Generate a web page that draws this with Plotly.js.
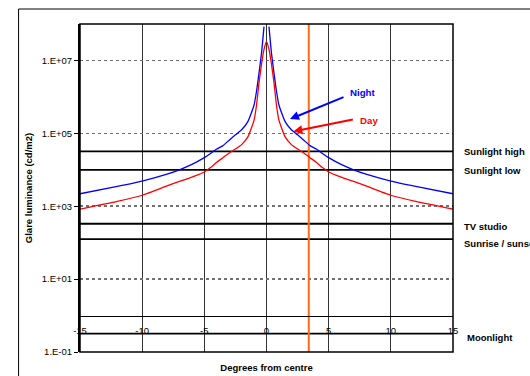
<!DOCTYPE html>
<html>
<head>
<meta charset="utf-8">
<script src="https://cdn.plot.ly/plotly-3.0.1.min.js"></script>
<style>
html,body{margin:0;padding:0;background:#fff;}
#chart{width:530px;height:376px;}
</style>
</head>
<body>
<div id="chart"></div>
<script>
// Degrees from centre
const xVals = [-15,-12,-10,-8,-7,-6,-5,-4.5,-4,-3.5,-3,-2.5,-2,-1.5,-1,-0.8,-0.6,-0.4,-0.2,0,0.2,0.4,0.6,0.8,1,1.5,2,2.5,3,3.5,4,4.5,5,6,7,8,10,12,15];
// Glare luminance (cd/m2)
const nightVals = [2.2e3,3.5e3,4.9e3,7.6e3,1.0e4,1.4e4,2.15e4,2.8e4,3.7e4,4.6e4,6.5e4,9.1e4,1.25e5,2.1e5,6.0e5,1.45e6,4.6e6,1.6e7,8.5e7,null,8.5e7,1.6e7,4.6e6,1.45e6,6.0e5,2.1e5,1.25e5,9.1e4,6.5e4,4.6e4,3.7e4,2.8e4,2.15e4,1.4e4,1.0e4,7.6e3,4.9e3,3.5e3,2.2e3];
const dayVals = [830,1350,2.0e3,3.6e3,4.8e3,6.3e3,8.7e3,1.15e4,1.6e4,2.15e4,2.9e4,3.7e4,4.9e4,8.0e4,2.3e5,6.0e5,2.5e6,7.9e6,2.0e7,3.3e7,2.0e7,7.9e6,2.5e6,6.0e5,2.3e5,8.0e4,4.9e4,3.7e4,2.9e4,2.15e4,1.6e4,1.15e4,8.7e3,6.3e3,4.8e3,3.6e3,2.0e3,1350,830];
// Reference luminance levels
const refNames = ["Sunlight high","Sunlight low","TV studio","Sunrise / sunset","Moonlight"];
const refVals = [32000,10000,330,125,0.32];
const refLabelShift = [0,-1,-3,-4,-4];
const refLabelXShift = [9,9,9,9,12];
// Orange marker line
const markerX = [3.4,3.4];
const markerY = [0.1,1e8];
// Axis ticks
const xTickVals = [-15,-10,-5,0,5,10,15];
const xTickText = ["-15","-10","-5","0","5","10","15"];
const yTickVals = [1e-1,1e1,1e3,1e5,1e7];
const yTickText = ["1.E-01","1.E+01","1.E+03","1.E+05","1.E+07"];

const FONT = "Arial, 'Liberation Sans', sans-serif";

const traces = [];
refVals.forEach((v,i)=>{
  traces.push({x:[-15,15], y:[v,v], mode:'lines', line:{color:'#000',width:1.8}, hoverinfo:'skip', showlegend:false, name:refNames[i]});
});
traces.push({x:markerX, y:markerY, mode:'lines', line:{color:'#FF6A13',width:2}, showlegend:false});
traces.push({x:xVals, y:nightVals, mode:'lines', name:'Night', line:{color:'#0000FF',width:1.3,shape:'spline',smoothing:0.5}, connectgaps:false, showlegend:false});
traces.push({x:xVals, y:dayVals, mode:'lines', name:'Day', line:{color:'#FF0000',width:1.3,shape:'spline',smoothing:0.5}, showlegend:false});

const annotations = refNames.map((n,i)=>({
  xref:'paper', yref:'y', x:1, y:Math.log10(refVals[i]), xanchor:'left', yanchor:'middle',
  xshift:refLabelXShift[i], yshift:refLabelShift[i], text:n, showarrow:false,
  font:{family:FONT,size:9.5,color:'#000',weight:'bold'}
}));
annotations.push({xref:'x',yref:'y',x:1.89,y:5.39,ax:55,ay:-22.6,text:'',showarrow:true,arrowhead:2,arrowsize:0.9,arrowwidth:2,arrowcolor:'#0000FF'});
annotations.push({xref:'x',yref:'y',x:2.16,y:5.05,ax:61,ay:-12.4,text:'',showarrow:true,arrowhead:2,arrowsize:0.9,arrowwidth:2,arrowcolor:'#FF0000'});
annotations.push({xref:'x',yref:'y',x:7.79,y:6.12,text:'Night',showarrow:false,font:{family:FONT,size:9.7,color:'#0000FF',weight:'bold'}});
annotations.push({xref:'x',yref:'y',x:8.22,y:5.35,text:'Day',showarrow:false,font:{family:FONT,size:9.7,color:'#FF0000',weight:'bold'}});

const layout = {
  width:530, height:376,
  margin:{l:80,r:76.7,t:24,b:23.7,pad:0},
  paper_bgcolor:'#fff', plot_bgcolor:'#fff',
  showlegend:false,
  font:{family:FONT,size:9.5,color:'#000'},
  xaxis:{
    range:[-15,15], tickvals:xTickVals, ticktext:xTickText,
    anchor:'free', position:0.111,
    showline:true, linecolor:'#000', linewidth:1.5,
    showgrid:true, gridcolor:'#333', gridwidth:1,
    zeroline:false, ticks:'', ticklabelstandoff:6,
    tickfont:{family:FONT,size:9.5,color:'#000'},
    title:{text:'Degrees from centre', font:{family:FONT,size:9.5,color:'#000',weight:'bold'}, standoff:29}
  },
  yaxis:{
    type:'log', range:[-1,8], tickvals:yTickVals, ticktext:yTickText,
    showline:true, linecolor:'#000', linewidth:2,
    showgrid:true, gridcolor:'#707070', gridwidth:1.5, griddash:'dot',
    zeroline:false, ticks:'outside', ticklen:4, tickcolor:'#000', tickwidth:1,
    tickfont:{family:FONT,size:9.5,color:'#000'},
    title:{text:'Glare luminance (cd/m2)', font:{family:FONT,size:9.5,color:'#000',weight:'bold'}, standoff:7}
  },
  shapes:[
    {type:'rect', xref:'paper', yref:'paper', x0:0, x1:1, y0:0, y1:1, line:{color:'#000',width:1.5}, layer:'above'},
    {type:'rect', xref:'paper', yref:'paper', x0:-0.1647, x1:1.3, y0:-0.2, y1:1.0457, line:{color:'#000',width:1}, fillcolor:'rgba(0,0,0,0)', layer:'below'}
  ],
  annotations:annotations
};

Plotly.newPlot('chart', traces, layout, {displayModeBar:false, staticPlot:true});
</script>
</body>
</html>
